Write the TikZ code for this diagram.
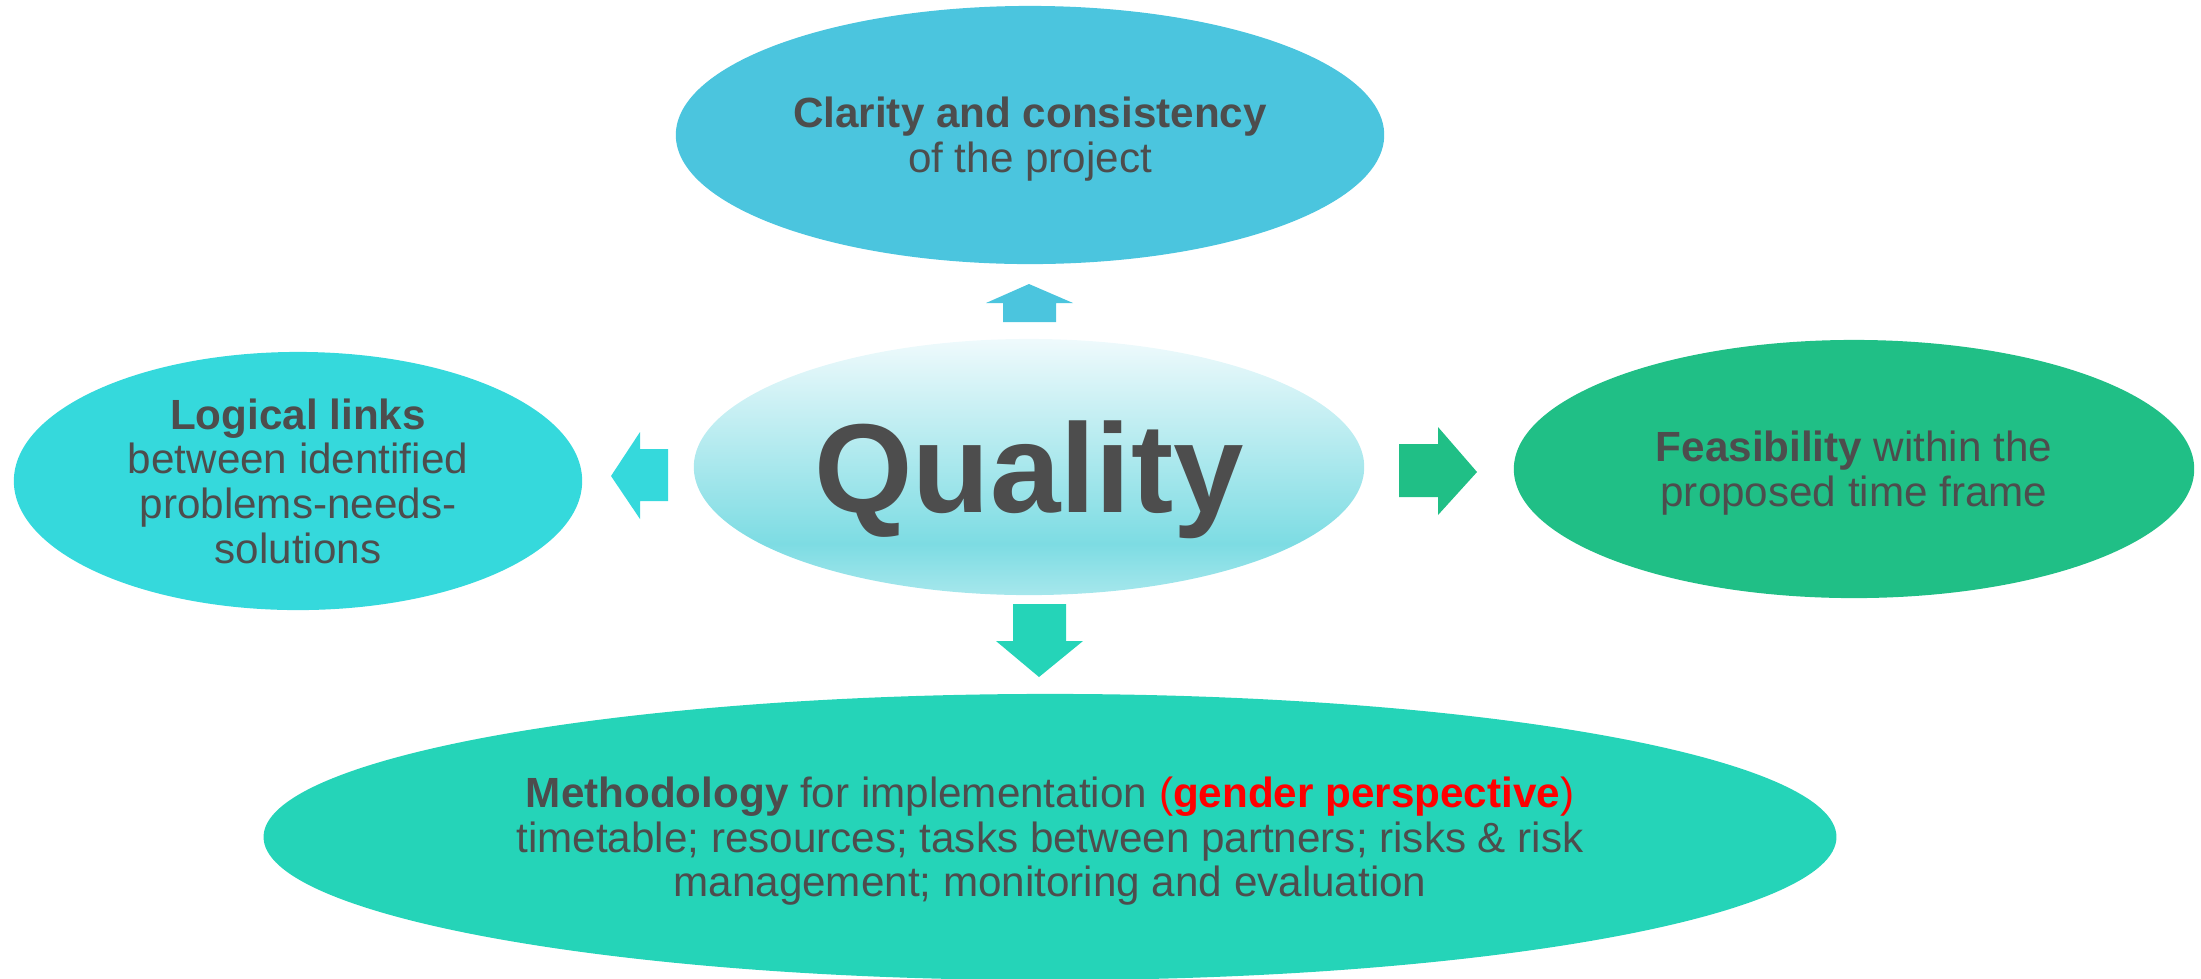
\documentclass[tikz,border=0pt]{standalone}
\usepackage{fontspec}
\setmainfont{Liberation Sans}
\usetikzlibrary{shapes.geometric}

\definecolor{txtgrey}{HTML}{4D4D4D}
\definecolor{clarityblue}{HTML}{4BC5DE}
\definecolor{logiccyan}{HTML}{35D9DC}
\definecolor{feasgreen}{HTML}{20BF86}
\definecolor{methteal}{HTML}{25D4B8}
\definecolor{qTop}{HTML}{EFFAFC}
\definecolor{qMid}{HTML}{7DDCE3}
\definecolor{qBottom}{HTML}{A6E7EC}
\pgfdeclareverticalshading{qualityshade}{100bp}{color(0bp)=(qBottom); color(25bp)=(qBottom); color(35bp)=(qMid); color(75bp)=(qTop); color(100bp)=(qTop)}

\begin{document}
\begin{tikzpicture}[x=0.01cm, y=-0.01cm,
    bubble/.style={ellipse, inner sep=0pt, align=center, text=txtgrey, text depth=0pt,
        font=\fontsize{12}{12.7}\selectfont}]
    \useasboundingbox (0,0) rectangle (2201,978);

    % Ellipses
    \node[bubble, fill=clarityblue, minimum width=7.08cm, minimum height=2.58cm]
        (Clarity) at (1030,135) {\textbf{Clarity and consistency}\\of the project};
    \node[bubble, fill=logiccyan, minimum width=5.68cm, minimum height=2.58cm]
        (Logic) at (298,481) {\textbf{Logical links}\\between identified\\problems-needs-\\solutions};
    \node[bubble, fill=feasgreen, minimum width=6.80cm, minimum height=2.58cm]
        (Feasible) at (1854,469) {\textbf{Feasibility} within the\\proposed time frame};
    \node[bubble, fill=methteal, minimum width=15.72cm, minimum height=2.86cm]
        (Method) at (1050,837) {\textbf{Methodology} for implementation
        {\color{red}(\textbf{gender perspective})}\\timetable; resources; tasks between partners; risks \& risk\\management; monitoring and evaluation};
    \node[bubble, shading=qualityshade, minimum width=6.70cm, minimum height=2.56cm,
        font=\fontsize{36}{40}\selectfont\bfseries]
        (Quality) at (1029,467) {Quality};

    % Arrows
    \fill[clarityblue] (1029,284) -- (1073,303) -- (1056,303) -- (1056,322)
        -- (1003,322) -- (1003,303) -- (986,303) -- cycle;
    \fill[logiccyan] (611,476) -- (640,432) -- (640,449) -- (668,449)
        -- (668,501) -- (640,501) -- (640,519) -- cycle;
    \fill[feasgreen] (1477,472) -- (1438,427) -- (1438,444) -- (1399,444)
        -- (1399,497) -- (1438,497) -- (1438,515) -- cycle;
    \fill[methteal] (1039,677) -- (1083,641) -- (1066,641) -- (1066,604)
        -- (1013,604) -- (1013,641) -- (996,641) -- cycle;
\end{tikzpicture}
\end{document}
